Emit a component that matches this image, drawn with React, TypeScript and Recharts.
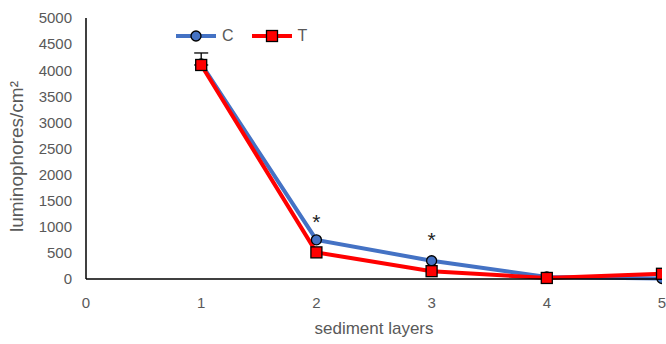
import React from 'react';
import { ComposedChart, Line, Scatter, XAxis, YAxis, ErrorBar, Legend } from 'recharts';

// sediment layers
const layers = [1, 2, 3, 4, 5];
// luminophores/cm2 per layer
const controlValues = [4120, 750, 350, 40, 10];
const treatmentValues = [4100, 510, 150, 20, 100];
// error bar on layer 1 (only upper part visible)
const treatmentErrors = [[0, 230], null, null, null, null];
// significance markers
const starLayers = [2, 3];
const starValues = [1100, 740];

const xTicks = [0, 1, 2, 3, 4, 5];
const yTicks = [0, 500, 1000, 1500, 2000, 2500, 3000, 3500, 4000, 4500, 5000];

const BLUE = '#4472C4';
const RED = '#FF0000';
const FONT = '"Liberation Sans", Arial, sans-serif';
const GRAY = '#595959';

const data = layers.map((l, i) => ({
  layer: l,
  C: controlValues[i],
  T: treatmentValues[i],
  tErr: treatmentErrors[i],
}));

const stars = starLayers.map((l, i) => ({ layer: l, star: starValues[i] }));

const SquareDot = (props: any) => {
  const { cx, cy, index } = props;
  if (cx == null || cy == null) return <g key={index} />;
  return <rect key={index} x={cx - 5.5} y={cy - 5.5} width={11} height={11} fill={RED} stroke="#000" strokeWidth={1.3} />;
};

const StarShape = (props: any) => (
  <text x={props.cx} y={props.cy + 7} textAnchor="middle" fontSize={21} fill="#222" fontFamily={FONT}>
    *
  </text>
);

const renderLegend = () => (
  <div style={{ display: 'flex', alignItems: 'center', fontFamily: FONT, fontSize: 16, color: GRAY }}>
    <svg width={42} height={14}>
      <line x1={0} y1={7} x2={40} y2={7} stroke={BLUE} strokeWidth={4} />
      <circle cx={20} cy={7} r={5} fill={BLUE} stroke="#000" strokeWidth={1.3} />
    </svg>
    <span style={{ marginLeft: 4, marginRight: 18 }}>C</span>
    <svg width={42} height={14}>
      <line x1={0} y1={7} x2={40} y2={7} stroke={RED} strokeWidth={4} />
      <rect x={14.5} y={1.5} width={11} height={11} fill={RED} stroke="#000" strokeWidth={1.3} />
    </svg>
    <span style={{ marginLeft: 4 }}>T</span>
  </div>
);

export default function App() {
  return (
    <div style={{ position: 'absolute', left: 0, top: 0, width: 666, height: 344, background: '#fff' }}>
      <ComposedChart width={666} height={344} data={data} margin={{ top: 18, right: 4, left: 0, bottom: 0 }}>
        <XAxis
          type="number"
          dataKey="layer"
          domain={[0, 5]}
          ticks={xTicks}
          allowDataOverflow
          stroke="#000"
          strokeWidth={1.5}
          tickLine={false}
          tickSize={0}
          tickMargin={18}
          height={65}
          tick={{ fill: GRAY, fontSize: 15, fontFamily: FONT }}
          label={{ value: 'sediment layers', position: 'insideBottom', offset: 10, fill: GRAY, fontSize: 17, fontFamily: FONT }}
        />
        <YAxis
          type="number"
          domain={[0, 5000]}
          ticks={yTicks}
          stroke="#000"
          strokeWidth={1.5}
          tickLine={false}
          tickSize={0}
          tickMargin={14}
          width={86}
          tick={{ fill: GRAY, fontSize: 15, fontFamily: FONT }}
          label={{ value: 'luminophores/cm²', angle: -90, position: 'insideLeft', offset: 16, dy: 8, fill: GRAY, fontSize: 19, fontFamily: FONT, style: { textAnchor: 'middle' } }}
        />
        <Legend
          content={renderLegend}
          verticalAlign="middle"
          align="center"
          layout="horizontal"
          wrapperStyle={{ left: 176, top: 27, width: 200, bottom: 'auto' }}
        />
        <Line
          dataKey="C"
          stroke={BLUE}
          strokeWidth={4}
          dot={{ r: 5, fill: BLUE, stroke: '#000', strokeWidth: 1.3 }}
          isAnimationActive={false}
        />
        <Line dataKey="T" stroke={RED} strokeWidth={4} dot={SquareDot} isAnimationActive={false}>
          <ErrorBar dataKey="tErr" width={7} stroke="#000" strokeWidth={1.3} direction="y" />
        </Line>
        <Scatter data={stars} dataKey="star" shape={StarShape} isAnimationActive={false} legendType="none" />
      </ComposedChart>
    </div>
  );
}
